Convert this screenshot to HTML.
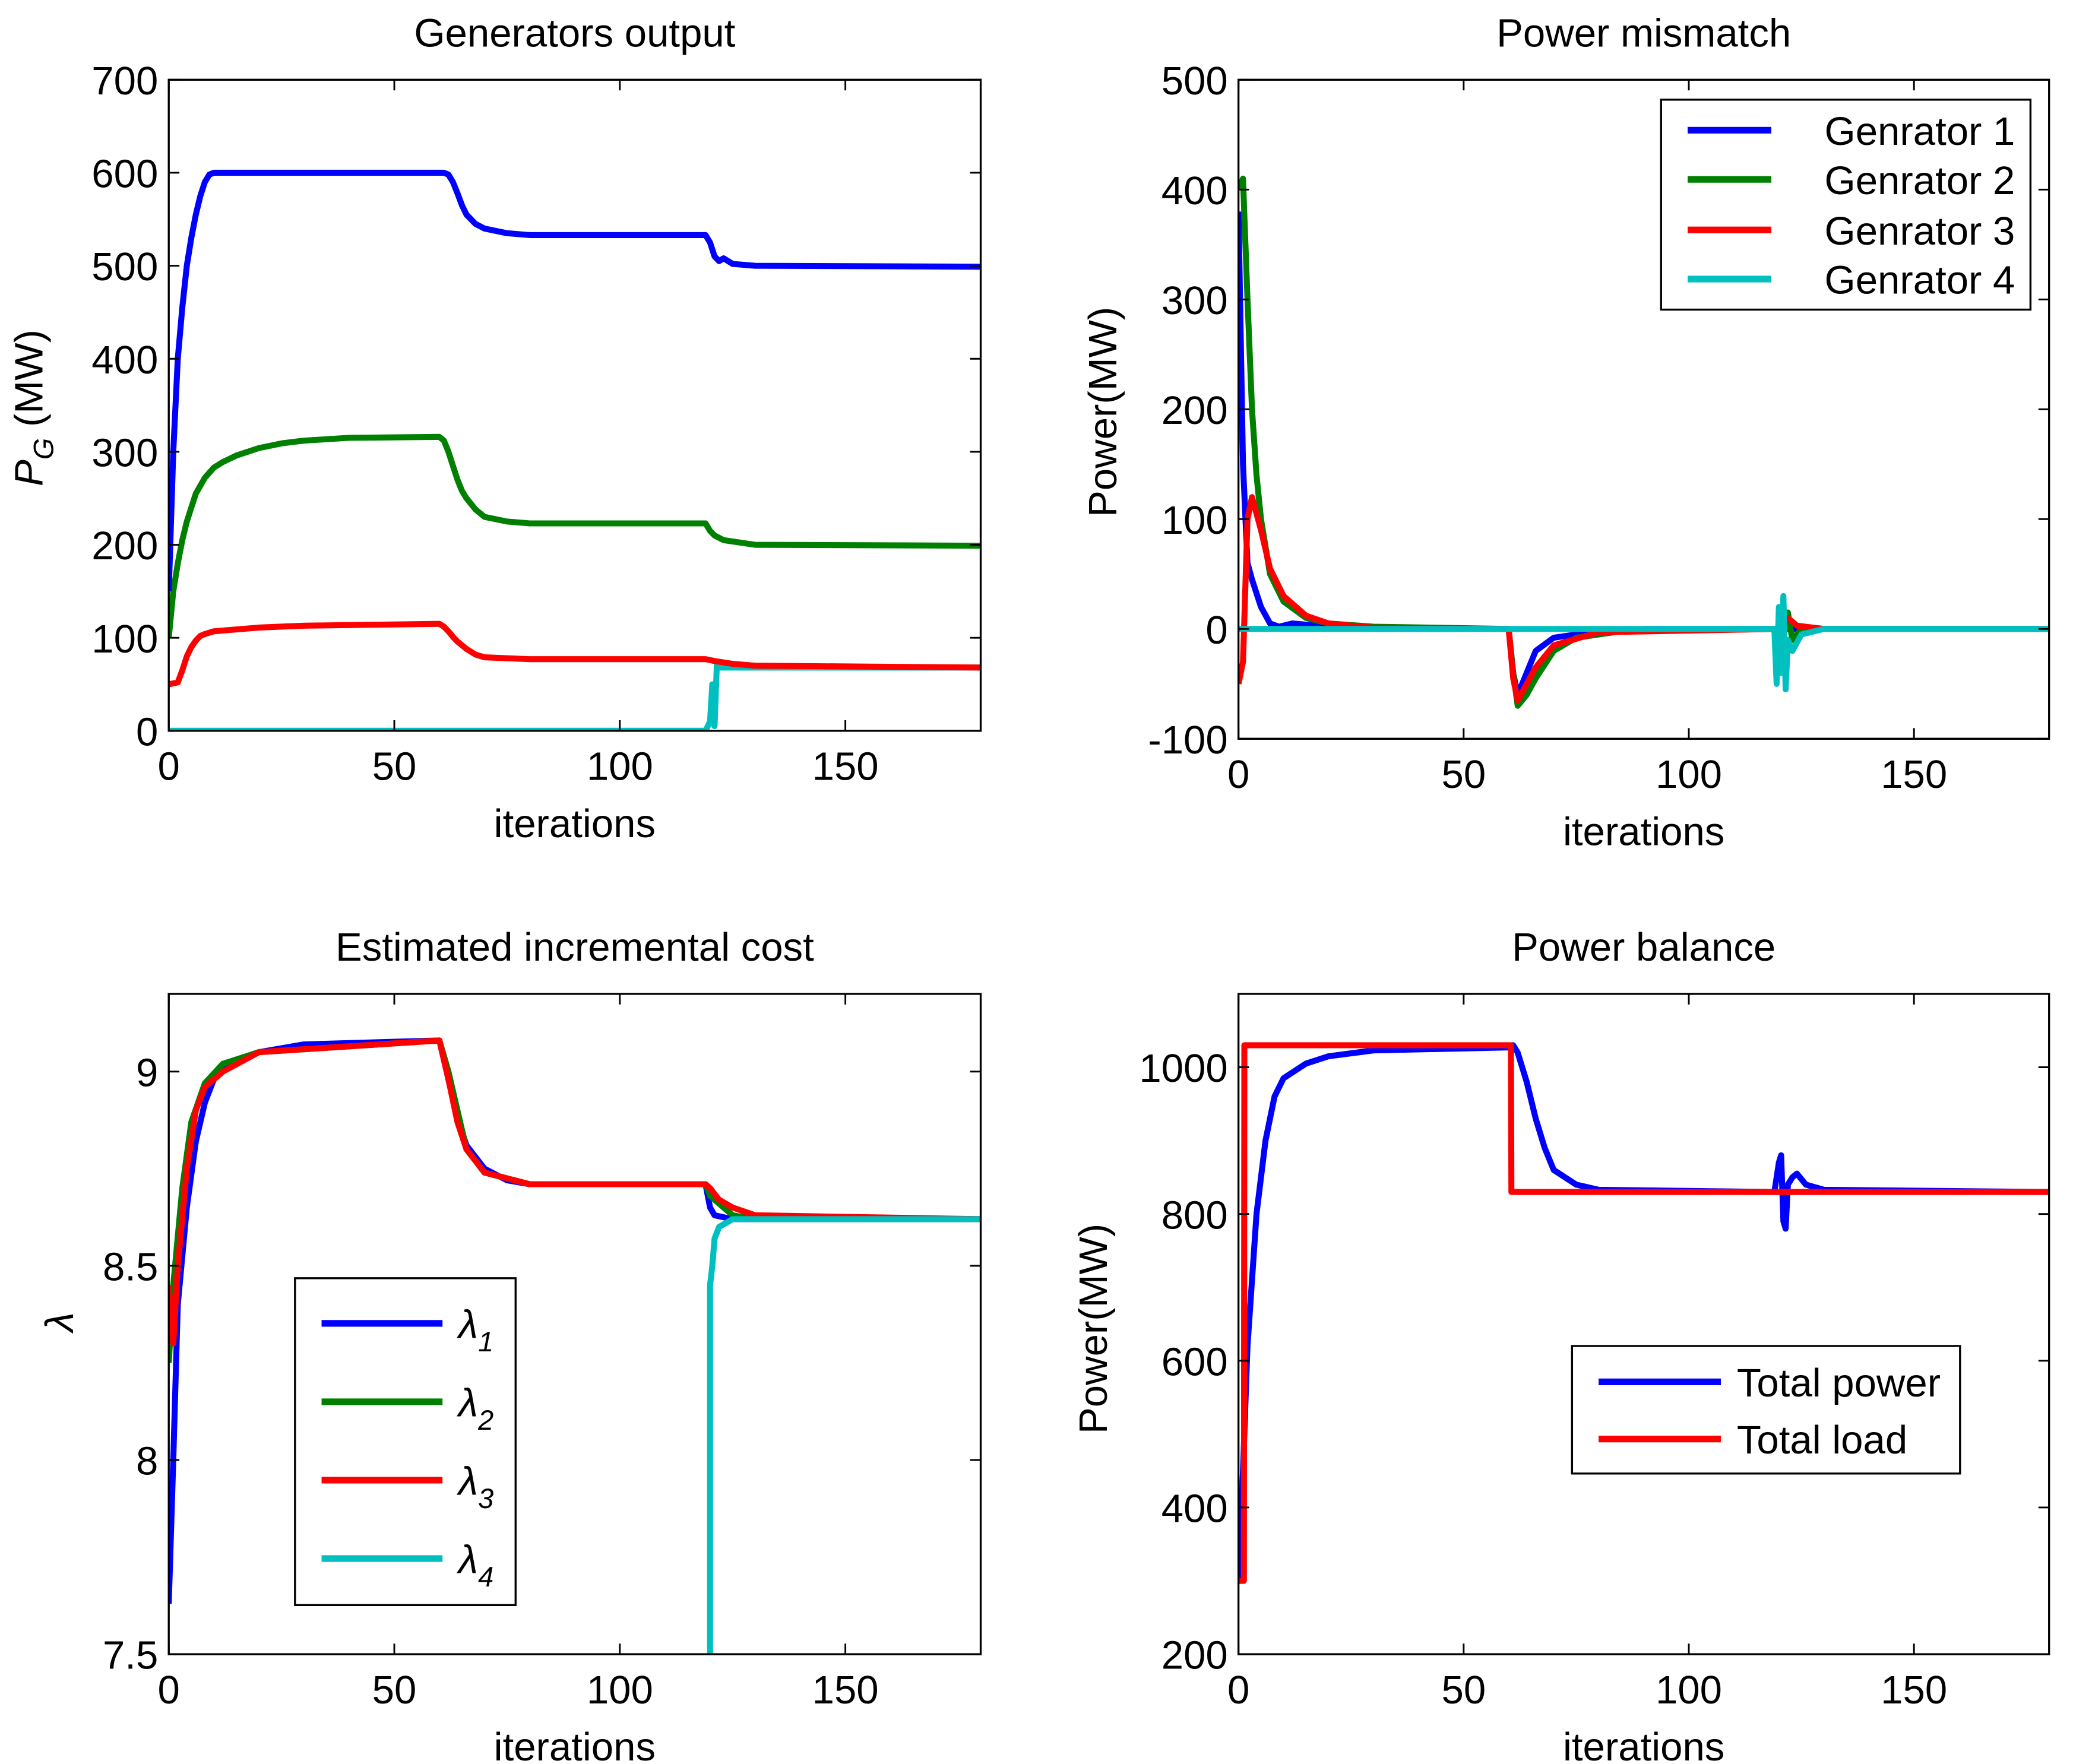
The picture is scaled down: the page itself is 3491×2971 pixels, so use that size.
<!DOCTYPE html>
<html><head><meta charset="utf-8"><style>
html,body{margin:0;padding:0;background:#fff}
svg{display:block}
text{font-family:"Liberation Sans",Arial,sans-serif;fill:#000}
</style></head><body>
<svg id="fig" xmlns="http://www.w3.org/2000/svg" width="3491" height="2971" viewBox="0 0 1560 1327.6">
<rect width="1560" height="1327.6" fill="#fff"/>
</svg>
<script>
// ---- data ----
const xTicks = [0, 50, 100, 150];
// Chart 1: Generators output
const g1It = [0,1,2,3,4,5,6,7,8,9,10,60,61,62,63,64,65,66,68,70,75,80,119,120,121,122,123,125,130,180];
const g1Pg = [150,300,400,455,500,530,555,575,590,598,600,600,600,598,590,578,565,555,545,540,535,533,533,525,510,505,508,502,500,499];
const g2It = [0,1,2,3,4,5,6,8,10,12,15,20,25,30,40,60,61,62,63,64,65,66,68,70,75,80,119,120,121,123,130,180];
const g2Pg = [100,150,180,205,225,240,255,272,283,289,296,304,309,312,315,316,312,300,285,270,258,250,238,230,225,223,223,215,210,205,200,199];
const g3It = [0,2,3,4,5,6,7,8,10,15,20,30,60,61,62,63,64,66,68,70,80,119,121,125,130,180];
const g3Pg = [50,52,65,80,90,97,102,104,107,109,111,113,115,112,107,101,96,88,82,79,77,77,75,72,70,68];
const g4It = [0,119,120,120.5,121,121.5,122,180];
const g4Pg = [0,0,10,50,5,70,68,68];
const pgTicks = [0,100,200,300,400,500,600,700];
// Chart 2: Power mismatch
const m1It = [0,1,2,3,5,7,9,12,20,30,60,61,62,64,66,70,80,90,180];
const m1V = [380,150,60,45,20,5,2,5,2,0,0,-40,-60,-40,-20,-8,-2,0,0];
const m2It = [0,1,2,3,4,5,7,10,15,20,30,60,61,62,64,66,70,75,85,120,121,122,123,125,180];
const m2V = [400,410,300,200,140,100,50,25,10,5,2,0,-40,-70,-60,-45,-20,-8,-2,0,10,15,-10,0,0];
const m3It = [0,1,2,3,4,5,7,10,15,20,30,60,61,62,64,66,70,80,120,121,122,124,130,180];
const m3V = [-50,-30,100,120,105,90,55,30,12,5,1,0,-45,-65,-50,-35,-15,-3,0,5,10,3,0,0];
const m4It = [0,119,119.5,120,120.5,121,121.5,122,123,125,130,180];
const m4V = [0,0,-50,20,-40,30,-55,-10,-20,-5,0,0];
const mTicks = [-100,0,100,200,300,400,500];
// Chart 3: incremental cost
const l1It = [0,1,2,4,6,8,10,15,20,30,60,62,64,66,70,75,80,119,120,121,125,180];
const l1V = [7.63,8.0,8.4,8.65,8.82,8.92,8.98,9.03,9.05,9.07,9.08,8.98,8.88,8.81,8.75,8.72,8.71,8.71,8.65,8.63,8.62,8.62];
const l2It = [0,1,3,5,8,12,20,60,62,64,66,70,80,119,120,122,125,130,180];
const l2V = [8.25,8.45,8.7,8.87,8.97,9.02,9.05,9.08,9.0,8.9,8.8,8.74,8.71,8.71,8.68,8.66,8.63,8.62,8.62];
const l3It = [0,1,2,4,6,8,12,20,60,62,64,66,70,80,119,120,122,125,130,180];
const l3V = [8.45,8.3,8.5,8.75,8.9,8.96,9.0,9.05,9.08,8.98,8.87,8.8,8.74,8.71,8.71,8.7,8.67,8.65,8.63,8.62];
const l4It = [120,120,120.5,121,122,125,180];
const l4V = [7.3,8.45,8.5,8.57,8.6,8.62,8.62];
const lTicks = [7.5,8,8.5,9];
// Chart 4: power balance
const tpIt = [0,1,2,4,6,8,10,15,20,30,60,61,62,64,66,68,70,75,80,119,120,120.5,121,121.5,122,123,124,126,130,180];
const tpV = [300,450,620,800,900,960,985,1005,1015,1023,1027,1030,1020,980,930,890,860,840,833,830,870,880,790,780,840,850,855,840,833,830];
const tlIt = [0,1.2,1.3,60.5,60.6,180];
const tlV = [300,300,1030,1030,830,830];
const bTicks = [200,400,600,800,1000];

// ---- drawing ----
const NS='http://www.w3.org/2000/svg';
const svg=document.getElementById('fig');
function mk(tag,attrs,parent){const e=document.createElementNS(NS,tag);for(const k in attrs)e.setAttribute(k,attrs[k]);(parent||svg).appendChild(e);return e;}
const COL={b:'#0000ff',g:'#008000',r:'#ff0000',c:'#00bfbf'};
const FS=30;

function axes(name,L,R,T,B,ymin,ymax,yt,title,ylabel,ylx,yly){
  const g=mk('g',{});
  
  
  const sx=v=>L+(v-0)/180*(R-L), sy=v=>B-(v-ymin)/(ymax-ymin)*(B-T);
  const cid='clip-'+name;
  const cp=mk('clipPath',{id:cid},g);mk('rect',{x:L,y:T,width:R-L,height:B-T},cp);
  const plot=mk('g',{'clip-path':'url(#'+cid+')'},g);
  const tl=8;
  xTicks.forEach(v=>{const x=sx(v);
    mk('line',{x1:x,x2:x,y1:B,y2:B-tl,stroke:'#000','stroke-width':1.3},g);
    mk('line',{x1:x,x2:x,y1:T,y2:T+tl,stroke:'#000','stroke-width':1.3},g);
    const t=mk('text',{x:x,y:B+37,'font-size':FS,'text-anchor':'middle'},g);t.textContent=v;
    
    });
  yt.forEach(v=>{const y=sy(v);
    mk('line',{x1:L,x2:L+tl,y1:y,y2:y,stroke:'#000','stroke-width':1.3},g);
    mk('line',{x1:R,x2:R-tl,y1:y,y2:y,stroke:'#000','stroke-width':1.3},g);
    const t=mk('text',{x:L-8,y:y+11,'font-size':FS,'text-anchor':'end'},g);t.textContent=v;
    
    });
  const t=mk('text',{x:(L+R)/2,y:T-25,'font-size':FS,'text-anchor':'middle'},g);t.textContent=title;
  
  
  const xl=mk('text',{x:(L+R)/2,y:B+80,'font-size':FS,'text-anchor':'middle'},g);xl.textContent='iterations';
  
  
  if(ylabel){const yl=mk('text',{x:ylx,y:yly,'font-size':FS,'text-anchor':'middle',transform:`rotate(-90 ${ylx} ${yly})`},g);
    yl.innerHTML=ylabel;
    
    }
  mk('rect',{x:L,y:T,width:R-L,height:B-T,fill:'none',stroke:'#000','stroke-width':1.5},g);
  return {sx,sy,plot,g};
}
function series(ax,its,vals,col,name){
  const d=its.map((v,i)=>(i?'L':'M')+ax.sx(v).toFixed(2)+' '+ax.sy(vals[i]).toFixed(2)).join('');
  const p=mk('path',{d:d,fill:'none',stroke:col,'stroke-width':4.5,'stroke-linejoin':'round'},ax.plot);
  
  
}
function legend(name,x,y,w,h,entries,lx1,lx2,tx){
  const g=mk('g',{});
  
  
  mk('rect',{x:x,y:y,width:w,height:h,fill:'#fff',stroke:'#000','stroke-width':1.5},g);
  entries.forEach(e=>{
    const it=mk('g',{},g);
    
    
    mk('line',{x1:lx1,x2:lx2,y1:e[2],y2:e[2],stroke:e[1],'stroke-width':5},it);
    const t=mk('text',{x:tx,y:e[2]+11,'font-size':FS},it);t.innerHTML=e[0];
  });
}

// Chart 1
const a1=axes('generators-output-chart',127,738,60,550,0,700,pgTicks,'Generators output','<tspan font-style="italic">P</tspan><tspan font-style="italic" font-size="21" dy="8">G</tspan><tspan dy="-8"> (MW)</tspan>',32,307);
series(a1,g4It,g4Pg,COL.c,'line-gen4');
series(a1,g3It,g3Pg,COL.r,'line-gen3');
series(a1,g2It,g2Pg,COL.g,'line-gen2');
series(a1,g1It,g1Pg,COL.b,'line-gen1');
// Chart 2
const a2=axes('power-mismatch-chart',932,1542,60,556,-100,500,mTicks,'Power mismatch','Power(MW)',840,310);
series(a2,m1It,m1V,COL.b,'line-mismatch-gen1');
series(a2,m2It,m2V,COL.g,'line-mismatch-gen2');
series(a2,m3It,m3V,COL.r,'line-mismatch-gen3');
series(a2,m4It,m4V,COL.c,'line-mismatch-gen4');
legend('mismatch-legend',1250,75,278,158,[['Genrator 1',COL.b,98],['Genrator 2',COL.g,135],['Genrator 3',COL.r,173],['Genrator 4',COL.c,210]],1270,1333,1373);
// Chart 3
const a3=axes('incremental-cost-chart',127,738,748,1245,7.5,9.2,lTicks,'Estimated incremental cost','<tspan font-style="italic">λ</tspan>',55,995);
series(a3,l1It,l1V,COL.b,'line-lambda1');
series(a3,l2It,l2V,COL.g,'line-lambda2');
series(a3,l3It,l3V,COL.r,'line-lambda3');
series(a3,l4It,l4V,COL.c,'line-lambda4');
legend('lambda-legend',222,962,166,246,[
 ['<tspan font-style="italic">λ</tspan><tspan font-style="italic" font-size="21" dy="10">1</tspan>',COL.b,996],
 ['<tspan font-style="italic">λ</tspan><tspan font-style="italic" font-size="21" dy="10">2</tspan>',COL.g,1055],
 ['<tspan font-style="italic">λ</tspan><tspan font-style="italic" font-size="21" dy="10">3</tspan>',COL.r,1114],
 ['<tspan font-style="italic">λ</tspan><tspan font-style="italic" font-size="21" dy="10">4</tspan>',COL.c,1173]],242,333,345);
// Chart 4
const a4=axes('power-balance-chart',932,1542,748,1245,200,1100,bTicks,'Power balance','Power(MW)',833,1000);
series(a4,tpIt,tpV,COL.b,'line-total-power');
series(a4,tlIt,tlV,COL.r,'line-total-load');
legend('balance-legend',1183,1013,292,96,[['Total power',COL.b,1040],['Total load',COL.r,1083]],1203,1295,1307);
</script>
</body></html>
